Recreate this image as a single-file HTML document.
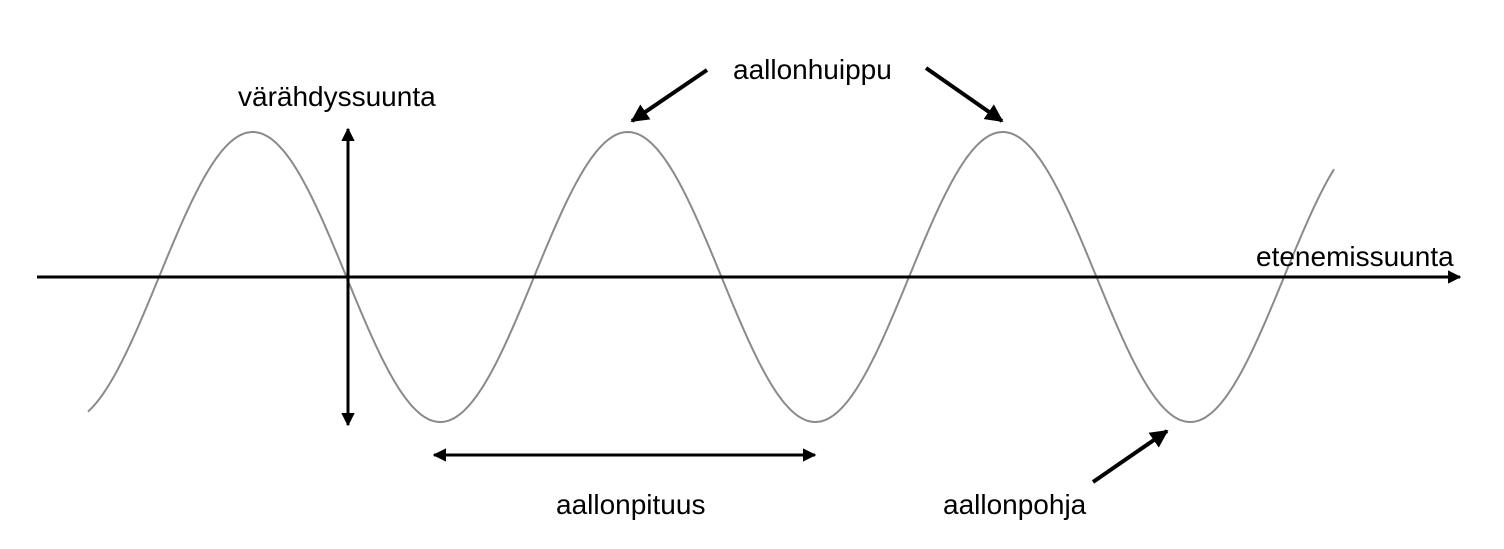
<!DOCTYPE html>
<html><head><meta charset="utf-8"><style>
html,body{margin:0;padding:0;background:#fff;}
svg{display:block;}
text{font-family:"Liberation Sans",Arial,sans-serif;font-size:28px;fill:#000;}
</style></head><body>
<svg id="s" width="1504" height="549" viewBox="0 0 1504 549" xmlns="http://www.w3.org/2000/svg">
<defs>
<marker id="a" viewBox="0 0 10 10" refX="9" refY="5" markerWidth="4.5" markerHeight="4.5" orient="auto-start-reverse">
<path d="M0,0 L10,5 L0,10 z" fill="#000"/></marker>
</defs>
<path id="w" d="" fill="none" stroke="#8a8a8a" stroke-width="2"/>
<line x1="37" y1="277" x2="1460" y2="277" stroke="#000" stroke-width="3" marker-end="url(#a)"/>
<line x1="348" y1="129" x2="348" y2="425" stroke="#000" stroke-width="3" marker-start="url(#a)" marker-end="url(#a)"/>
<line x1="434" y1="455" x2="815" y2="455" stroke="#000" stroke-width="3" marker-start="url(#a)" marker-end="url(#a)"/>
<line x1="707" y1="70" x2="632" y2="121" stroke="#000" stroke-width="4" marker-end="url(#a)"/>
<line x1="926" y1="68" x2="1002" y2="121" stroke="#000" stroke-width="4" marker-end="url(#a)"/>
<line x1="1093" y1="482" x2="1167" y2="431" stroke="#000" stroke-width="4" marker-end="url(#a)"/>
<text x="238" y="106">värähdyssuunta</text>
<text x="733" y="79">aallonhuippu</text>
<text x="1256" y="266">etenemissuunta</text>
<text x="556" y="514">aallonpituus</text>
<text x="943" y="514">aallonpohja</text>
</svg>
<script>
var d="";for(var x=88;x<=1335;x+=2){var y=277-145*Math.sin(2*Math.PI*(x-159)/375);d+=(x==88?"M":"L")+x+","+y.toFixed(1);}
document.getElementById("w").setAttribute("d",d);
</script>
</body></html>
